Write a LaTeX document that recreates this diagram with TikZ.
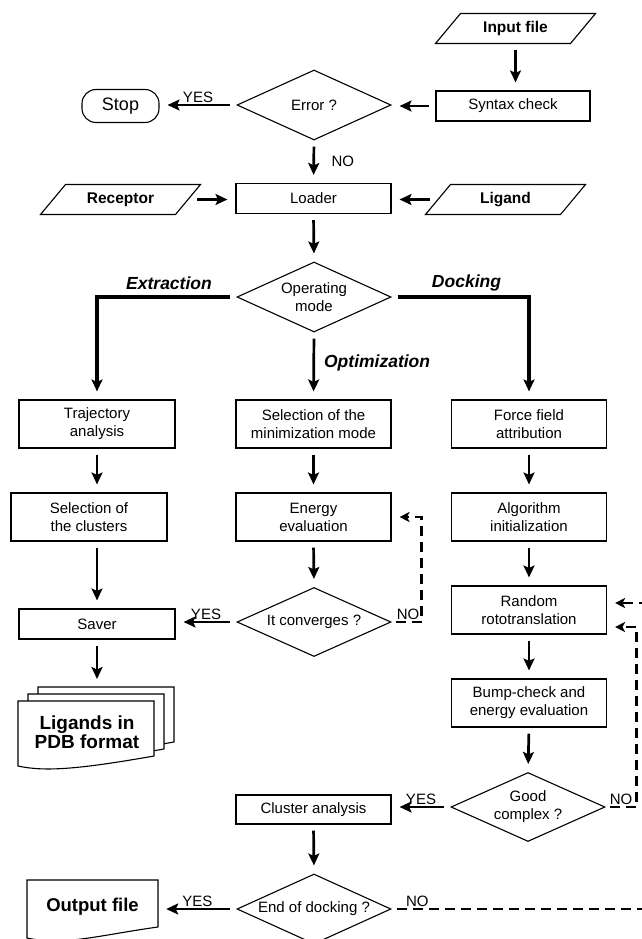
\documentclass[tikz,border=0pt]{standalone}
\usepackage{fontspec}
\setmainfont{Liberation Sans}
\usetikzlibrary{arrows.meta,shapes.geometric,calc}
\newcommand\myfs[2]{\fontsize{#1}{#2}\selectfont}
\newcommand\parashape[1]{\draw[line width=1.1pt] ([shift={(-55,-15)}]#1.center) -- ([shift={(80,-15)}]#1.center) -- ([shift={(55,15)}]#1.center) -- ([shift={(-80,15)}]#1.center) -- cycle;}
\begin{document}
\begin{tikzpicture}[x=1pt,y=-1pt,
  box/.style={draw, line width=1.1pt, minimum width=155pt, minimum height=48pt, inner sep=1pt, align=center, font=\myfs{15}{18}},
  sbox/.style={box, minimum height=30pt},
  dia/.style={diamond, draw, line width=1.1pt, minimum width=154pt, minimum height=70pt, aspect=2.2, inner sep=0pt, align=center, font=\myfs{15}{18}},
  paratext/.style={minimum width=135pt, minimum height=30pt, inner sep=0pt, font=\myfs{15.5}{18}\bfseries},
  arr/.style={line width=2.7pt, -{Stealth[length=12pt,width=11pt,inset=2.5pt]}, shorten <=6pt, shorten >=8pt},
  br/.style={arr, line width=3.4pt},
  dloop/.style={line width=2.6pt, dash pattern=on 10pt off 6pt, -{Stealth[length=10pt,width=10pt,inset=2.5pt]}, shorten >=8pt},
  lab/.style={font=\myfs{15}{17}, inner sep=1.5pt},
  blab/.style={font=\myfs{17.5}{20}\bfseries\itshape, inner sep=0pt},
  docline/.style={line width=1.1pt, fill=white}
]
\path[use as bounding box] (0,0) rectangle (642,939);
\clip (0,0) rectangle (642,939);

% top part
\node[paratext] (inp) at (515.5,28.5) {Input file};
\parashape{inp}
\node[sbox, minimum width=154pt] (syn) at (513,106) {Syntax check};
\node[dia] (err) at (314,105) {Error ?};
\node[draw, rounded corners=14pt, minimum width=77pt, minimum height=33pt, line width=1.1pt, font=\myfs{18}{20}] (stop) at (120.5,106) {Stop};
\node[sbox] (loader) at (313.5,198.5) {Loader};
\node[paratext] (rec) at (120.5,199.5) {Receptor};
\parashape{rec}
\node[paratext] (lig) at (505.5,199.5) {Ligand};
\parashape{lig}
\node[dia] (op) at (314,297) {Operating\\mode};

% branch labels
\node[blab] (extl) at (169,283) {Extraction};
\node[blab] (dockl) at (466.5,283) {Docking};

% columns
\node[box, minimum width=156pt] (traj) at (97,424) {Trajectory\\analysis};
\node[box] (selmin) at (313.5,424) {Selection of the\\minimization mode};
\node[box] (force) at (529,424) {Force field\\attribution};
\node[box, minimum width=156pt] (clus) at (89,517) {Selection of\\the clusters};
\node[box] (ener) at (313.5,517) {Energy\\evaluation};
\node[box] (algo) at (529,517) {Algorithm\\initialization};
\node[sbox, minimum width=156pt] (saver) at (97,624) {Saver};
\node[dia, minimum height=69pt] (conv) at (314,622) {It converges ?};
\node[box] (rand) at (529,610) {Random\\rototranslation};
\node[box] (bump) at (529,703) {Bump-check and\\energy evaluation};
\node[dia, minimum height=69pt] (good) at (528,807) {Good\\complex ?};
\node[sbox, minimum height=29pt] (clan) at (313.5,809.5) {Cluster analysis};
\node[dia] (endd) at (314,909) {End of docking ?};

% ligands documents (stacked)
\draw[docline] (38,687) -- (174,687) -- (174,742) .. controls (100,755) and (65,758) .. (38,752) -- cycle;
\draw[docline] (28,694) -- (164,694) -- (164,749) .. controls (90,762) and (55,765) .. (28,759) -- cycle;
\draw[docline] (18,701) -- (154,701) -- (154,756) .. controls (80,769) and (45,772) .. (18,766) -- cycle;
\node[font=\myfs{19}{19}\bfseries, align=center, inner sep=0pt] (ligd) at (87,732) {Ligands in\\PDB format};
\coordinate (ligtop) at (97,687);

% output file document
\draw[docline] (27,880) -- (158,880) -- (158,927) .. controls (100,935) and (65,946) .. (27,938) -- cycle;
\node[font=\myfs{18.5}{20}\bfseries, inner sep=0pt, minimum width=131pt, minimum height=48pt] (outf) at (92.5,907) {Output file};

% helper coordinates for loops
\coordinate (rlo) at ($(rand.east)+(0,17)$);
\coordinate (rhi) at ($(rand.east)+(0,-7)$);
\coordinate (o1) at (650,912);

% connectors
\draw[arr] (inp.south) -- (inp.south |- syn.north);
\draw[arr] (syn.west) -- (syn.west -| err.east);
\draw[arr] (err.west) -- node[lab,above]{YES} (err.west -| stop.east);
\draw[arr] (err.south) -- node[lab,right=15pt]{NO} (loader.north);
\draw[arr, shorten <=9pt] (rec.east) -- (rec.east -| loader.west);
\draw[arr, shorten <=8pt] (lig.west) -- (lig.west -| loader.east);
\draw[arr] (loader.south) -- (op.north);
\draw[br] (op.west) -| (traj.north);
\draw[br] (op.east) -| (force.north);
\draw[arr] (op.south) -- node[blab, right=9pt, pos=0.45]{Optimization} (selmin.north);

\draw[arr] (traj.south) -- (traj.south |- clus.north);
\draw[arr] (selmin.south) -- (ener.north);
\draw[arr] (force.south) -- (algo.north);
\draw[arr] (clus.south -| saver.north) -- (saver.north);
\draw[arr] (ener.south) -- (conv.north);
\draw[arr] (conv.west) -- node[lab,above]{YES} (conv.west -| saver.east);
\draw[dloop, shorten <=4pt] (conv.east) -- node[lab,above,pos=0.55]{NO} ++(30,0) |- (ener.east);
\draw[arr] (algo.south) -- (rand.north);
\draw[arr] (rand.south) -- (bump.north);
\draw[arr] (bump.south) -- (good.north);
\draw[arr] (good.west) -- node[lab,above]{YES} (good.west -| clan.east);
\draw[dloop, shorten <=4pt] (good.east) -- node[lab,above,pos=0.5]{NO} ++(31,0) |- (rlo);
\draw[arr] (clan.south) -- (endd.north);
\draw[arr] (endd.west) -- node[lab,above]{YES} (endd.west -| outf.east);
\draw[dloop, shorten <=5pt] (endd.east) -- node[lab,above,pos=0.1]{NO} (endd.east -| o1) |- (rhi);
\draw[arr] (saver.south) -- (saver.south |- ligtop);
\end{tikzpicture}
\end{document}
